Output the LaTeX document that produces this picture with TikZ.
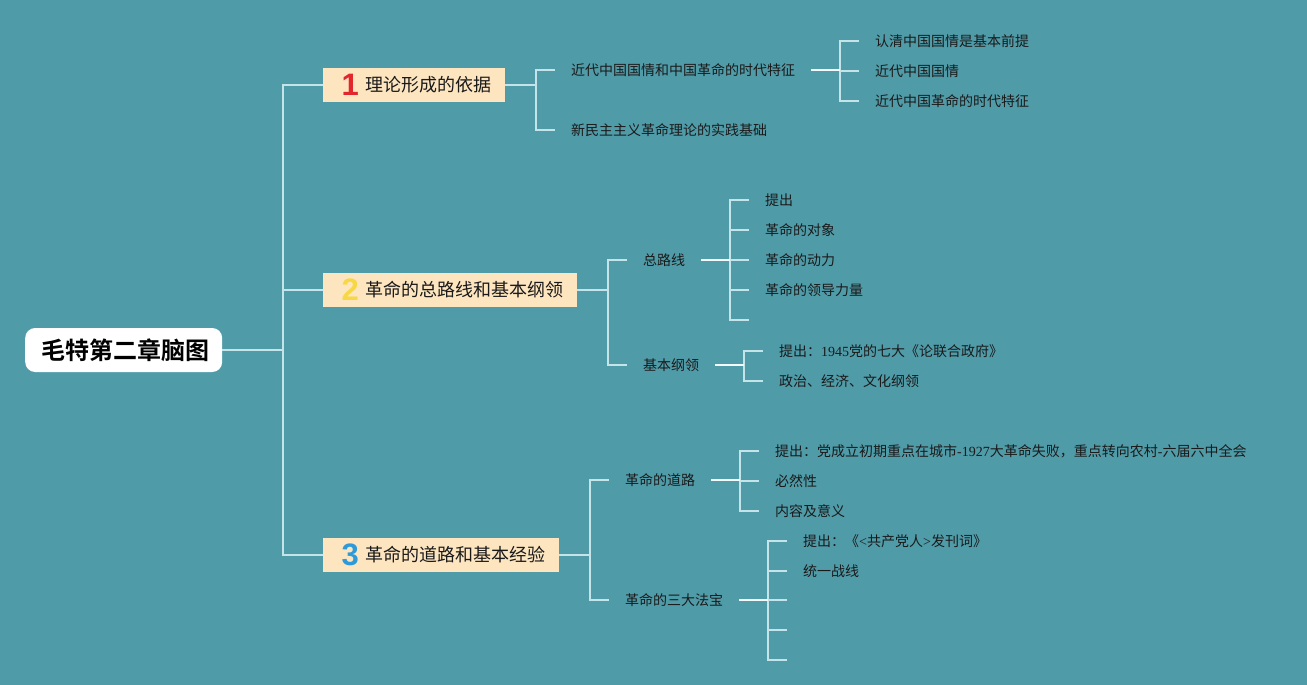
\documentclass[tikz,border=0pt]{standalone}
\usepackage{fontspec}
\setmainfont{Noto Sans CJK SC}[BoldFont={Noto Sans CJK SC Bold}]
\newfontfamily\lat{Liberation Serif}
\newfontfamily\numf{Liberation Sans}
\definecolor{bg}{HTML}{509BA8}
\definecolor{lnc}{HTML}{C5E4EA}
\definecolor{hlc}{HTML}{F4FAFB}
\definecolor{tbox}{HTML}{FDE5C0}
\definecolor{txt}{HTML}{1A1A1A}
\definecolor{nred}{HTML}{E3262B}
\definecolor{nyel}{HTML}{F7D843}
\definecolor{nblu}{HTML}{2D9BDB}
\newcommand{\tnum}[2]{\hspace*{19pt}\makebox[16pt]{\raisebox{-4.5pt}{\numf\bfseries\fontsize{31}{31}\selectfont\color{#1}#2}}\hspace*{7pt}}
\newcommand{\rpad}[1]{\hspace*{#1}\mbox{}}
\begin{document}
\begin{tikzpicture}[x=1pt,y=-1pt,
  ln/.style={draw=lnc, line width=1.6pt},
  hl/.style={draw=hlc, line width=2.2pt},
  leaf/.style={anchor=west, inner xsep=16pt, inner ysep=0pt, font=\fontsize{14}{16}\selectfont, text=txt},
  topic/.style={anchor=west, fill=tbox, inner xsep=0pt, inner ysep=0pt, minimum height=34pt, font=\fontsize{18}{20}\selectfont, text=txt},
  rootbox/.style={anchor=west, fill=white, rounded corners=10pt, inner xsep=0pt, inner ysep=0pt, minimum height=44pt, font=\bfseries\fontsize{24}{26}\selectfont, text=black}]
\fill[bg] (0,0) rectangle (1307,685);
\useasboundingbox (0,0) rectangle (1307,685);

% root
\node[rootbox] (root) at (25,350) {\hspace*{16pt}毛特第二章脑图\rpad{13pt}};
\coordinate (tr) at (283,350);

% topics
\node[topic] (t1) at (323,85) {\tnum{nred}{1}理论形成的依据\rpad{14pt}};
\node[topic] (t2) at (323,290) {\tnum{nyel}{2}革命的总路线和基本纲领\rpad{14pt}};
\node[topic] (t3) at (323,555) {\tnum{nblu}{3}革命的道路和基本经验\rpad{14pt}};

\draw[ln] (root.east) -- (tr);
\draw[ln] (tr) |- (t1.west);
\draw[ln] (tr) |- (t2.west);
\draw[ln] (tr) |- (t3.west);

% topic 1
\coordinate (j1) at (536,85);
\node[leaf] (a1) at (555,70) {近代中国国情和中国革命的时代特征};
\node[leaf] (a2) at (555,130) {新民主主义革命理论的实践基础};
\draw[ln] (t1.east) -- (j1);
\draw[ln] (j1) |- (a1.west);
\draw[ln] (j1) |- (a2.west);

\coordinate (j11) at (840,70);
\node[leaf] (b1) at (859,41) {认清中国国情是基本前提};
\node[leaf] (b2) at (859,71) {近代中国国情};
\node[leaf] (b3) at (859,101) {近代中国革命的时代特征};
\draw[ln] (j11) |- (b1.west);
\draw[ln] (j11) |- (b2.west);
\draw[ln] (j11) |- (b3.west);
\draw[hl] (a1.east) -- (j11);

% topic 2
\coordinate (j2) at (608,290);
\node[leaf] (c1) at (627,260) {总路线};
\node[leaf] (c2) at (627,365) {基本纲领};
\draw[ln] (t2.east) -- (j2);
\draw[ln] (j2) |- (c1.west);
\draw[ln] (j2) |- (c2.west);

\coordinate (j21) at (730,260);
\node[leaf] (d1) at (749,200) {提出};
\node[leaf] (d2) at (749,230) {革命的对象};
\node[leaf] (d3) at (749,260) {革命的动力};
\node[leaf] (d4) at (749,290) {革命的领导力量};
\coordinate (d5) at (749,320);
\draw[ln] (j21) |- (d1.west);
\draw[ln] (j21) |- (d2.west);
\draw[ln] (j21) |- (d3.west);
\draw[ln] (j21) |- (d4.west);
\draw[ln] (j21) |- (d5);
\draw[hl] (c1.east) -- (j21);

\coordinate (j22) at (744,365);
\node[leaf] (e1) at (763,351) {提出：{\lat 1945}党的七大《论联合政府》};
\node[leaf] (e2) at (763,381) {政治、经济、文化纲领};
\draw[ln] (j22) |- (e1.west);
\draw[ln] (j22) |- (e2.west);
\draw[hl] (c2.east) -- (j22);

% topic 3
\coordinate (j3) at (590,555);
\node[leaf] (r1) at (609,480) {革命的道路};
\node[leaf] (r2) at (609,600) {革命的三大法宝};
\draw[ln] (t3.east) -- (j3);
\draw[ln] (j3) |- (r1.west);
\draw[ln] (j3) |- (r2.west);

\coordinate (j31) at (740,480);
\node[leaf] (f1) at (759,451) {提出：党成立初期重点在城市{\lat -1927}大革命失败，重点转向农村{\lat -}六届六中全会};
\node[leaf] (f2) at (759,481) {必然性};
\node[leaf] (f3) at (759,511) {内容及意义};
\draw[ln] (j31) |- (f1.west);
\draw[ln] (j31) |- (f2.west);
\draw[ln] (j31) |- (f3.west);
\draw[hl] (r1.east) -- (j31);

\coordinate (j32) at (768,600);
\node[leaf] (g1) at (787,541) {提出：《{\lat <}共产党人{\lat >}发刊词》};
\node[leaf] (g2) at (787,571) {统一战线};
\coordinate (g3) at (787,600);
\coordinate (g4) at (787,630);
\coordinate (g5) at (787,660);
\draw[ln] (j32) |- (g1.west);
\draw[ln] (j32) |- (g2.west);
\draw[ln] (j32) |- (g3);
\draw[ln] (j32) |- (g4);
\draw[ln] (j32) |- (g5);
\draw[hl] (r2.east) -- (j32);
\end{tikzpicture}
\end{document}
